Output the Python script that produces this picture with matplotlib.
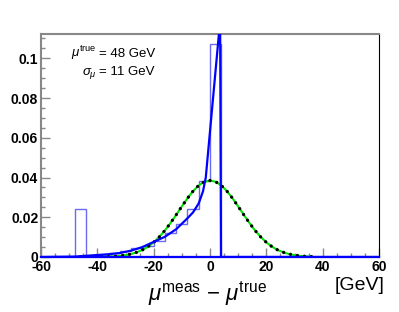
import matplotlib
matplotlib.use("Agg")
import matplotlib.pyplot as plt
from matplotlib.ticker import MultipleLocator, FuncFormatter

plt.rcParams['font.family'] = ['Liberation Sans', 'DejaVu Sans']
plt.rcParams['mathtext.fontset'] = 'custom'
plt.rcParams['mathtext.rm'] = 'Liberation Sans'
plt.rcParams['mathtext.it'] = 'Liberation Sans:italic'
plt.rcParams['axes.unicode_minus'] = False

# histogram (bin edges and normalised contents)
hist_edges = [-48, -44, -40, -36, -32, -28, -24, -20, -16, -12, -8, -4, 0, 4]
hist_vals = [0.0242, 0.0, 0.001, 0.002, 0.003, 0.0044, 0.0057, 0.0082,
             0.0120, 0.0168, 0.0242, 0.0384, 0.1070]

# blue curve
curve_x = [-60, -48, -44, -40, -36, -32, -28, -24, -20, -16, -12, -8, -6,
           -4, -2.5, -1.5, 3.6, 3.9, 60]
curve_y = [0.0, 0.0002, 0.0006, 0.0010, 0.0014, 0.0020, 0.0032, 0.0050,
           0.0076, 0.0102, 0.0140, 0.0195, 0.0225, 0.0270, 0.0330, 0.0400,
           0.1190, 0.0, 0.0]

# gaussian (green line, black dots)
gaus_x = [-46, -44, -42, -40, -38, -36, -34, -32, -30, -28, -26, -24, -22,
          -20, -18, -16, -14, -12, -10, -8, -6, -4, -2, 0, 2, 4, 6, 8, 10,
          12, 14, 16, 18, 20, 22, 24, 26, 28, 30, 32, 34, 36]
gaus_y = [0.000005, 0.000013, 0.00003, 0.000052, 0.0001, 0.00018, 0.00033,
          0.00056, 0.00093, 0.00151, 0.00236, 0.00356, 0.00521, 0.00737,
          0.0101, 0.01337, 0.01713, 0.02123, 0.02547, 0.02955, 0.03318,
          0.03604, 0.03787, 0.0385, 0.03787, 0.03604, 0.03318, 0.02955,
          0.02547, 0.02123, 0.01713, 0.01337, 0.0101, 0.00737, 0.00521,
          0.00356, 0.00236, 0.00151, 0.00093, 0.00056, 0.00033, 0.00018]

fig = plt.figure(figsize=(3.99, 3.12), dpi=100)
ax = fig.add_axes([41/399, 1-257/312, 338/399, 223.5/312])

ax.stairs(hist_vals, hist_edges, color='#5050f0', lw=1.0, alpha=0.85, zorder=2)
ax.plot(gaus_x, gaus_y, color='#00e600', lw=1.5, zorder=3)
ax.plot(gaus_x, gaus_y, color='black', lw=2.4, ls=(0, (0.01, 2.1)),
        dash_capstyle='round', zorder=4)
ax.plot(curve_x, curve_y, color='#0000ff', lw=1.6, zorder=5)
ax.axhline(0, color='#0000ff', lw=1.6, zorder=5, clip_on=False)

ax.set_xlim(-60, 60)
ax.set_ylim(0, 0.1125)

ax.xaxis.set_major_locator(MultipleLocator(20))
ax.xaxis.set_minor_locator(MultipleLocator(5))
ax.yaxis.set_major_locator(MultipleLocator(0.02))
ax.yaxis.set_minor_locator(MultipleLocator(0.005))
ax.yaxis.set_major_formatter(FuncFormatter(lambda v, p: '%g' % round(v, 4)))
ax.xaxis.set_major_formatter(FuncFormatter(lambda v, p: '%g' % v))

ax.tick_params(which='both', direction='in', color='#888888', top=False,
               right=False, width=1.0)
ax.tick_params(which='major', length=6.5, labelsize=10)
ax.tick_params(which='minor', length=3.2)
ax.tick_params(axis='x', pad=2.5)
ax.tick_params(axis='y', pad=2)
for lab in ax.get_xticklabels() + ax.get_yticklabels():
    lab.set_fontweight('bold')

for s in ['top', 'left', 'bottom']:
    ax.spines[s].set_color('#888888')
    ax.spines[s].set_linewidth(1.5)
ax.spines['right'].set_color('black')
ax.spines['right'].set_linewidth(0.8)

ax.text(-40.1, 0.1008, r'$\mu^{\mathrm{true}}$', ha='right', va='baseline', fontsize=9.5)
ax.text(-39.3, 0.1008, '= 48 GeV', ha='left', va='baseline', fontsize=9.5)
ax.text(-40.1, 0.0916, r'$\sigma_{\mu}$', ha='right', va='baseline', fontsize=9.5)
ax.text(-39.3, 0.0916, '= 11 GeV', ha='left', va='baseline', fontsize=9.5)

fig.text(207/399, 1-300/312, r'$\mu^{\mathrm{meas}}$ $-$ $\mu^{\mathrm{true}}$',
         ha='center', va='baseline', fontsize=16)
fig.text(385/399, 1-290/312, '[GeV]', ha='right', va='baseline', fontsize=14)

fig.savefig('out.png', dpi=100)
